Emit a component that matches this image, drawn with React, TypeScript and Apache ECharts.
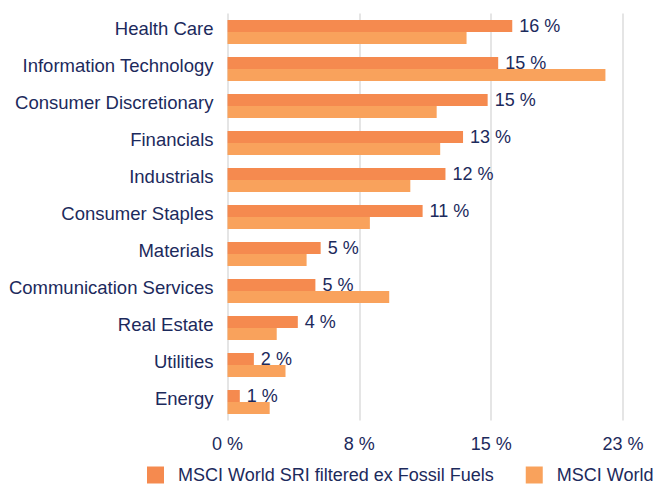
import React, { useEffect, useRef } from "react";
import * as echarts from "echarts";

const categories = [
  "Health Care",
  "Information Technology",
  "Consumer Discretionary",
  "Financials",
  "Industrials",
  "Consumer Staples",
  "Materials",
  "Communication Services",
  "Real Estate",
  "Utilities",
  "Energy",
];
const sriValues = [16.2, 15.4, 14.8, 13.4, 12.4, 11.1, 5.3, 5.0, 4.0, 1.5, 0.7];
const worldValues = [13.6, 21.5, 11.9, 12.1, 10.4, 8.1, 4.5, 9.2, 2.8, 3.3, 2.4];
const seriesNames = ["MSCI World SRI filtered ex Fossil Fuels", "MSCI World"];
const xTicks = [0, 7.5, 15, 22.5];

const NAVY = "#1c2a5c";
const FONT = "Liberation Sans";

export default function App() {
  const ref = useRef<HTMLDivElement>(null);
  useEffect(() => {
    if (!ref.current) return;
    const chart = echarts.init(ref.current, undefined, { renderer: "svg" });
    chart.setOption({
      animation: false,
      textStyle: { fontFamily: FONT },
      grid: { left: 227.5, right: 36, top: 13.5, bottom: 65.5, containLabel: false },
      legend: {
        left: 147,
        top: 466,
        padding: 0,
        itemWidth: 17,
        itemHeight: 17,
        itemGap: 32,
        icon: "rect",
        textStyle: { color: NAVY, fontSize: 18, fontFamily: FONT, padding: [0, 0, 0, 9] },
        data: seriesNames,
      },
      xAxis: {
        type: "value",
        min: xTicks[0],
        max: xTicks[xTicks.length - 1],
        interval: xTicks[1] - xTicks[0],
        axisLine: { show: false },
        axisTick: { show: false },
        splitLine: { lineStyle: { color: "#dcdcdc", width: 1.5 } },
        axisLabel: {
          color: NAVY,
          fontSize: 18,
          fontFamily: FONT,
          margin: 14,
          formatter: (v: number) => Math.round(v) + " %",
        },
      },
      yAxis: {
        type: "category",
        data: categories,
        inverse: true,
        axisLine: { show: false },
        axisTick: { show: false },
        axisLabel: {
          color: NAVY,
          fontSize: 18.5,
          fontFamily: FONT,
          margin: 14,
          verticalAlign: "bottom",
          lineHeight: 8,
        },
      },
      series: [
        {
          name: seriesNames[0],
          type: "bar",
          data: sriValues,
          barWidth: 12,
          barGap: "0%",
          itemStyle: { color: "#f58a4f" },
          label: {
            show: true,
            position: "right",
            distance: 7,
            color: NAVY,
            fontSize: 18,
            fontFamily: FONT,
            formatter: (p: any) => Math.round(p.value) + " %",
          },
        },
        {
          name: seriesNames[1],
          type: "bar",
          data: worldValues,
          barWidth: 12,
          barGap: "0%",
          itemStyle: { color: "#f9a25c" },
        },
      ],
    });
    return () => chart.dispose();
  }, []);
  return <div ref={ref} style={{ width: 659, height: 486, position: "absolute", left: 0, top: 0 }} />;
}
